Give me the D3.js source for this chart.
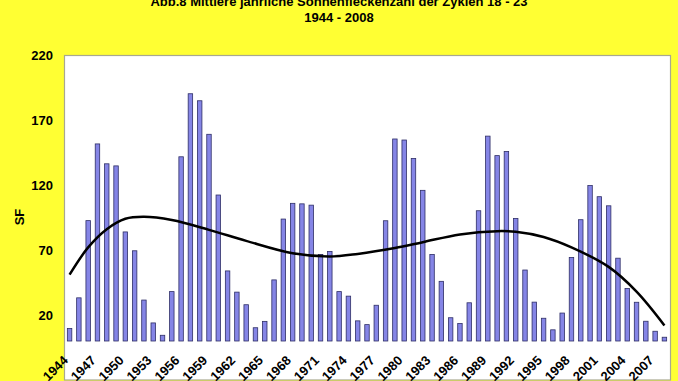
<!DOCTYPE html>
<html>
<head>
<meta charset="utf-8">
<script src="https://cdn.jsdelivr.net/npm/d3@7"></script>
<style>
  body { margin: 0; background: #ffff33; }
  svg { display: block; }
</style>
</head>
<body>
<script>
// yearly mean sunspot numbers
var years = d3.range(1944, 2009);
var sunspots = [9.6, 33.2, 92.6, 151.6, 136.3, 134.7, 83.9, 69.4, 31.5, 13.9,
  4.4, 38.0, 141.7, 190.2, 184.8, 159.0, 112.3, 53.9, 37.6, 27.9,
  10.2, 15.1, 47.0, 93.8, 105.9, 105.5, 104.5, 66.6, 68.9, 38.0,
  34.5, 15.5, 12.6, 27.5, 92.5, 155.4, 154.6, 140.4, 115.9, 66.6,
  45.9, 17.9, 13.4, 29.4, 100.2, 157.6, 142.6, 145.7, 94.3, 54.6,
  29.9, 17.5, 8.6, 21.5, 64.3, 93.3, 119.6, 111.0, 104.0, 63.7,
  40.4, 29.8, 15.2, 7.5, 2.9];

// trend curve
var trendYears = [1944, 1946, 1948, 1950, 1952, 1955, 1959, 1963, 1968, 1972, 1975, 1979, 1982, 1986, 1990, 1992, 1995, 1998, 2002, 2005, 2008];
var trendValues = [51, 72, 86, 94, 95.5, 93, 85.5, 77, 67.5, 65, 67, 71.5, 76, 82, 84.5, 84, 80, 72, 57, 38, 12];

var yTicks = [20, 70, 120, 170, 220];
var xTicks = d3.range(1944, 2009, 3);

var title1 = "Abb.8 Mittlere jährliche Sonnenfleckenzahl der Zyklen 18 - 23";
var title2 = "1944 - 2008";

var W = 678, H = 381;
var plotLeft = 64, plotRight = 670, plotTop = 55, plotBase = 341;

var svg = d3.select("body").append("svg")
  .attr("width", W)
  .attr("height", H)
  .style("font-family", "Arial, 'Liberation Sans', sans-serif");

svg.append("rect")
  .attr("width", W).attr("height", H)
  .attr("fill", "#ffff33");

// plot area
svg.append("rect")
  .attr("x", plotLeft + 0.5).attr("y", plotTop + 0.5)
  .attr("width", plotRight - plotLeft).attr("height", 324.5)
  .attr("fill", "#ffffff")
  .attr("stroke", "#a8a890")
  .attr("stroke-width", 1.2);

var x = d3.scaleBand()
  .domain(years)
  .range([plotLeft, plotRight])
  .paddingInner(0.52)
  .paddingOuter(0.36);

var y = d3.scaleLinear()
  .domain([0, 220])
  .range([plotBase, plotTop]);

var xc = d3.scaleLinear()
  .domain([1944, 2008])
  .range([x(1944) + x.bandwidth() / 2, x(2008) + x.bandwidth() / 2]);

svg.append("g").selectAll("rect")
  .data(sunspots)
  .enter().append("rect")
  .attr("x", function(d, i) { return x(years[i]); })
  .attr("y", function(d) { return y(d); })
  .attr("width", x.bandwidth())
  .attr("height", function(d) { return plotBase - y(d); })
  .attr("fill", "#8585e6")
  .attr("stroke", "#2e2e66")
  .attr("stroke-width", 0.8);

var line = d3.line()
  .x(function(d, i) { return xc(trendYears[i]); })
  .y(function(d) { return y(d); })
  .curve(d3.curveCatmullRom.alpha(0.5));

svg.append("path")
  .datum(trendValues)
  .attr("d", line)
  .attr("fill", "none")
  .attr("stroke", "#000")
  .attr("stroke-width", 2.5);

// y axis
var yAxis = svg.append("g")
  .attr("transform", "translate(53,0)")
  .call(d3.axisLeft(y).tickValues(yTicks).tickSize(0).tickPadding(0));
yAxis.select(".domain").remove();
yAxis.selectAll("text")
  .attr("font-size", 13)
  .attr("font-weight", "bold")
  .attr("fill", "#000")
  .attr("font-family", "Arial, 'Liberation Sans', sans-serif");

// x axis
var xAxis = svg.append("g")
  .attr("transform", "translate(0," + plotBase + ")")
  .call(d3.axisBottom(x).tickValues(xTicks).tickSize(0));
xAxis.select(".domain").remove();
xAxis.selectAll("text")
  .attr("x", 0).attr("y", 0).attr("dy", "0.35em")
  .attr("transform", "translate(-4,17) rotate(-45)")
  .style("text-anchor", "end")
  .attr("font-size", 13)
  .attr("font-weight", "bold")
  .attr("fill", "#000")
  .attr("font-family", "Arial, 'Liberation Sans', sans-serif");

svg.append("text")
  .attr("transform", "translate(24,217) rotate(-90)")
  .attr("text-anchor", "middle")
  .attr("font-size", 13)
  .attr("font-weight", "bold")
  .text("SF");

svg.append("text")
  .attr("x", 339).attr("y", 6)
  .attr("text-anchor", "middle")
  .attr("font-size", 13)
  .attr("font-weight", "bold")
  .text(title1);

svg.append("text")
  .attr("x", 339).attr("y", 22)
  .attr("text-anchor", "middle")
  .attr("font-size", 13)
  .attr("font-weight", "bold")
  .text(title2);
</script>
</body>
</html>
